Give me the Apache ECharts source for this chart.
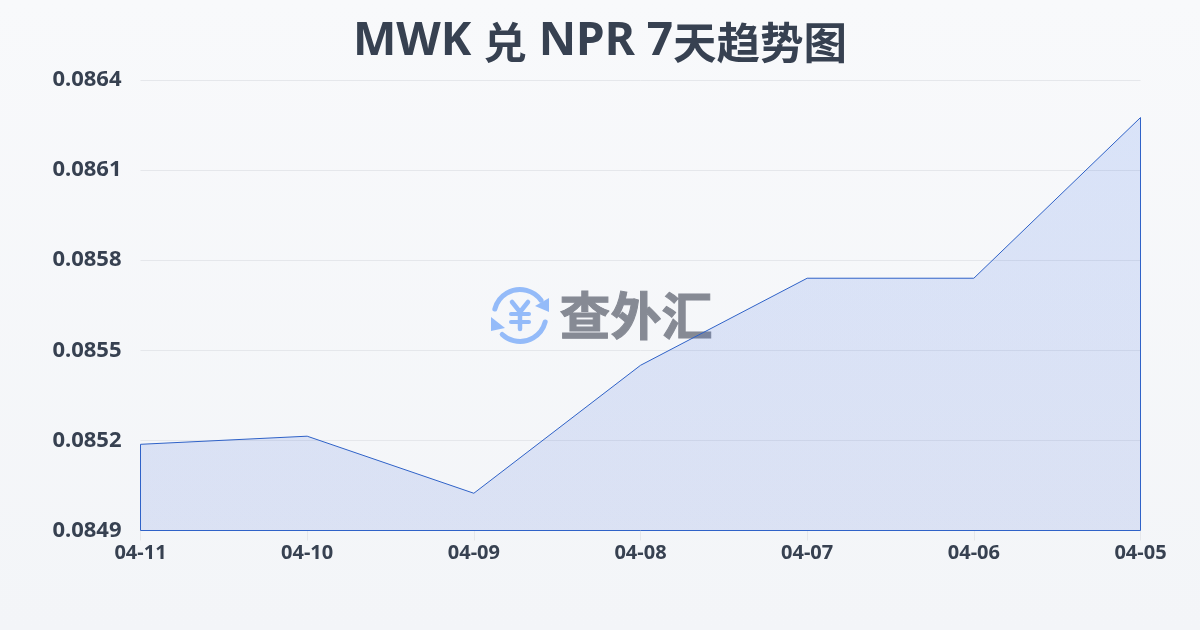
<!DOCTYPE html>
<html><head><meta charset="utf-8">
<style>html,body{margin:0;padding:0;background:#f6f7f9}#c{width:1200px;height:630px}</style>
<script src="https://cdn.jsdelivr.net/npm/echarts@6/dist/echarts.min.js"></script>
</head><body><div id="c"></div>
<script>
const categories = ['04-11','04-10','04-09','04-08','04-07','04-06','04-05'];
const rates = [0.085187,0.085214,0.085024,0.08545,0.08574,0.08574,0.086275];
const yTicks = [0.0849,0.0852,0.0855,0.0858,0.0861,0.0864];
const titleText = '{a|MWK }{b|兑}{a| NPR 7}{b|天趋势图}';
const brandText = '查外汇';
const font = '"Noto Sans","Noto Sans CJK SC",sans-serif';
const blue = '#2f62c8';
const logo = '#94bbf9';
const ink = '#374151';
const chart = echarts.init(document.getElementById('c'), null, {renderer:'canvas'});
chart.setOption({
  animation:false,
  backgroundColor:new echarts.graphic.LinearGradient(0,0,0,1,[{offset:0,color:'#f8f9fb'},{offset:1,color:'#f3f5f8'}]),
  title:{text:titleText,left:'center',top:14,textStyle:{rich:{
    a:{fontFamily:font,fontSize:46,fontWeight:'bold',color:ink},
    b:{fontFamily:'"Noto Sans CJK SC"',fontSize:43.5,fontWeight:'bold',color:ink}}}},
  grid:{left:140.5,right:59.5,top:80,bottom:99.5},
  xAxis:{type:'category',data:categories,boundaryGap:false,
    axisLine:{show:false},
    axisTick:{show:true,length:10,lineStyle:{color:'#e5e7eb'}},
    axisLabel:{fontFamily:font,fontSize:20,fontWeight:'bold',color:ink,margin:13,showMinLabel:true,showMaxLabel:true,interval:0,hideOverlap:false},
    splitLine:{show:false}},
  yAxis:{type:'value',min:0.0849,max:0.0864,interval:0.0003,
    axisLine:{show:false},axisTick:{show:false},
    axisLabel:{fontFamily:font,fontSize:22,fontWeight:'bold',color:ink,margin:19,formatter:v=>v.toFixed(4),verticalAlign:'middle',padding:[0,0,3,0]},
    splitLine:{show:true,lineStyle:{color:'#e5e7eb',width:1}}},
  graphic:{elements:[
    {type:'group',z:1,silent:true,children:[
      {type:'arc',shape:{cx:520,cy:315.5,r:26,startAngle:-Math.PI*0.92,endAngle:-Math.PI*0.2},style:{stroke:logo,lineWidth:5,fill:null,lineCap:'round'}},
      {type:'arc',shape:{cx:520,cy:315.5,r:26,startAngle:Math.PI*0.08,endAngle:Math.PI*0.74},style:{stroke:logo,lineWidth:5,fill:null,lineCap:'round'}},
      {type:'polygon',shape:{points:[[549,298],[549,312],[535,306]]},style:{fill:logo}},
      {type:'polygon',shape:{points:[[491,317],[491,331],[505,328]]},style:{fill:logo}},
      {type:'polyline',shape:{points:[[512,302],[520,312],[528,302]]},style:{stroke:logo,lineWidth:4.5,fill:null,lineCap:'round',lineJoin:'round'}},
      {type:'line',shape:{x1:520,y1:312,x2:520,y2:329},style:{stroke:logo,lineWidth:4.5,lineCap:'round'}},
      {type:'line',shape:{x1:511,y1:314,x2:529,y2:314},style:{stroke:logo,lineWidth:4,lineCap:'round'}},
      {type:'line',shape:{x1:511,y1:322,x2:529,y2:322},style:{stroke:logo,lineWidth:4,lineCap:'round'}}
    ]},
    {type:'text',z:1,silent:true,x:636,y:315.5,style:{text:brandText,fontFamily:'"Noto Sans CJK SC"',fontSize:51,fontWeight:'bold',fill:'#868a94',stroke:'#868a94',lineWidth:1,align:'center',verticalAlign:'middle'}}
  ]},
  series:[{
    type:'custom',coordinateSystem:'cartesian2d',z:3,clip:false,
    data:rates.map((v,i)=>[i,v]),
    renderItem:function(params,api){
      if(params.dataIndex!==0) return null;
      const base=0.0849;
      const pts=rates.map((v,i)=>api.coord([i,v]));
      pts.push(api.coord([rates.length-1,base]));
      pts.push(api.coord([0,base]));
      return {type:'polygon',shape:{points:pts},
        style:{fill:new echarts.graphic.LinearGradient(0,0,0,1,[{offset:0,color:'rgba(37,99,235,0.14)'},{offset:1,color:'rgba(37,80,210,0.12)'}]),stroke:blue,lineWidth:1}};
    }
  }]
});
</script></body></html>
